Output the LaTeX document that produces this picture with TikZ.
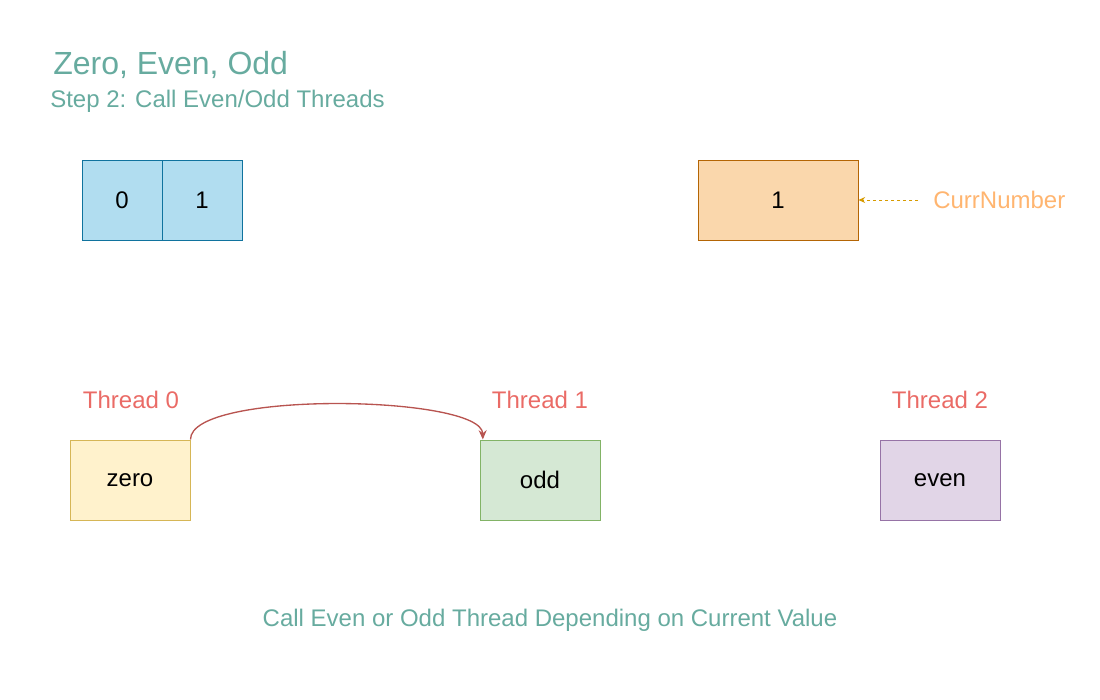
\documentclass[tikz,border=0pt]{standalone}
\usepackage{fontspec}
\setmainfont{Liberation Sans}
\usetikzlibrary{arrows.meta}
\definecolor{titlegreen}{HTML}{67AB9F}
\definecolor{bluefill}{HTML}{B1DDF0}
\definecolor{bluedraw}{HTML}{10739E}
\definecolor{orfill}{HTML}{FAD7AC}
\definecolor{ordraw}{HTML}{B46504}
\definecolor{currtext}{HTML}{FFB570}
\definecolor{currarrow}{HTML}{D79B00}
\definecolor{threadred}{HTML}{EA6B66}
\definecolor{yfill}{HTML}{FFF2CC}
\definecolor{ydraw}{HTML}{D6B656}
\definecolor{gfill}{HTML}{D5E8D4}
\definecolor{gdraw}{HTML}{82B366}
\definecolor{pfill}{HTML}{E1D5E7}
\definecolor{pdraw}{HTML}{9673A6}
\definecolor{curvered}{HTML}{B85450}
\begin{document}
\begin{tikzpicture}[x=0.75pt,y=-0.75pt,
  cell/.style={draw=bluedraw,fill=bluefill,line width=0.75pt,minimum width=60pt,minimum height=60pt,inner sep=0pt,font=\fontsize{18}{20}\selectfont},
  thbox/.style={line width=0.75pt,minimum width=90pt,minimum height=60pt,inner sep=0pt,font=\fontsize{18}{20}\selectfont},
  thlabel/.style={text=threadred,font=\fontsize{18}{20}\selectfont,inner sep=0pt}]
\useasboundingbox (0,0) rectangle (1100,700);
\node[anchor=west,text=titlegreen,font=\fontsize{24}{28}\selectfont,inner sep=0pt] (title) at (53,65) {Zero, Even, Odd};
\node[anchor=west,text=titlegreen,font=\fontsize{18}{20}\selectfont,inner sep=0pt] (subtitle) at (50,101) {Step 2: Call Even/Odd Threads};
\node[cell] (c0) at (122,200) {0};
\node[cell] (c1) at (202,200) {1};
\node[draw=ordraw,fill=orfill,line width=0.75pt,minimum width=120pt,minimum height=60pt,inner sep=0pt,font=\fontsize{18}{20}\selectfont] (curr) at (778,200) {1};
\node[text=currtext,font=\fontsize{18}{20}\selectfont,inner sep=0pt,anchor=west] (currlbl) at (933,200) {CurrNumber};
\coordinate (currstart) at (918,200);
\draw[currarrow,dashed,dash pattern=on 2.5pt off 2pt,line width=0.6pt,-{Stealth[length=5pt,width=4.5pt]}] (currstart) -- (curr.east);
\node[thlabel] (t0) at (131,400) {Thread 0};
\node[thlabel] (t1) at (540,400) {Thread 1};
\node[thlabel] (t2) at (940,400) {Thread 2};
\node[thbox,draw=ydraw,fill=yfill] (zero) at (130,480) {zero};
\node[thbox,draw=gdraw,fill=gfill] (odd) at (540,480) {odd};
\node[thbox,draw=pdraw,fill=pfill] (even) at (940,480) {even};
\draw[curvered,line width=1pt,-{Stealth[length=7pt,width=6pt]}] (zero.north east) .. controls (190,390) and (482,395) .. ([xshift=2.5pt]odd.north west);
\node[text=titlegreen,font=\fontsize{18}{20}\selectfont,inner sep=0pt] (bottom) at (550,620) {Call Even or Odd Thread Depending on Current Value};
\end{tikzpicture}
\end{document}
